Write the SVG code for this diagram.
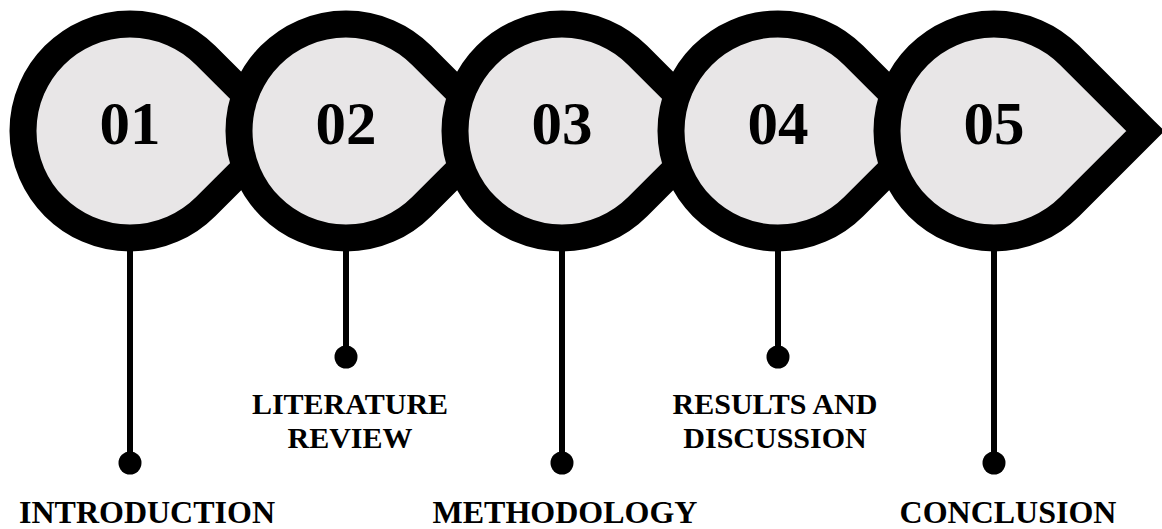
<svg xmlns="http://www.w3.org/2000/svg" width="1162" height="529" viewBox="0 0 1162 529">
  <defs>
    <path id="drop" d="M151.3,0 L75.66,-75.66 A107,107 0 1 0 75.66,75.66 Z"/>
  </defs>
  <style>
    .ring { fill: #e8e6e7; stroke: #000; stroke-width: 27; stroke-linejoin: miter; stroke-miterlimit: 4; }
    .num { font-family: "Liberation Serif", "Times New Roman", serif; font-weight: bold; font-size: 61px; fill: #000; text-anchor: middle; }
    .lbl { font-family: "Liberation Serif", "Times New Roman", serif; font-weight: bold; font-size: 32px; fill: #000; text-anchor: middle; }
    .lbl2 { font-family: "Liberation Serif", "Times New Roman", serif; font-weight: bold; font-size: 30px; fill: #000; text-anchor: middle; }
    .stem { stroke: #000; stroke-width: 6; fill: none; }
    .dot { fill: #000; }
  </style>
  <rect width="1162" height="529" fill="#fff"/>

  <g id="connectors">
    <line class="stem" x1="130" y1="240" x2="130" y2="463"/>
    <circle class="dot" cx="130" cy="463" r="11.5"/>
    <line class="stem" x1="346" y1="240" x2="346" y2="357"/>
    <circle class="dot" cx="346" cy="357" r="11.5"/>
    <line class="stem" x1="562" y1="240" x2="562" y2="463"/>
    <circle class="dot" cx="562" cy="463" r="11.5"/>
    <line class="stem" x1="778" y1="240" x2="778" y2="357"/>
    <circle class="dot" cx="778" cy="357" r="11.5"/>
    <line class="stem" x1="994" y1="240" x2="994" y2="463"/>
    <circle class="dot" cx="994" cy="463" r="11.5"/>
  </g>

  <g id="node1">
    <use href="#drop" class="ring" transform="translate(130,131)"/>
    <text class="num" x="130" y="144">01</text>
    <text class="lbl" x="147" y="523">INTRODUCTION</text>
  </g>
  <g id="node2">
    <use href="#drop" class="ring" transform="translate(346,131)"/>
    <text class="num" x="346" y="144">02</text>
    <text class="lbl2"><tspan x="350" y="414">LITERATURE</tspan><tspan x="350" y="448">REVIEW</tspan></text>
  </g>
  <g id="node3">
    <use href="#drop" class="ring" transform="translate(562,131)"/>
    <text class="num" x="562" y="144">03</text>
    <text class="lbl" x="565" y="523">METHODOLOGY</text>
  </g>
  <g id="node4">
    <use href="#drop" class="ring" transform="translate(778,131)"/>
    <text class="num" x="778" y="144">04</text>
    <text class="lbl2"><tspan x="775" y="414">RESULTS AND</tspan><tspan x="775" y="448">DISCUSSION</tspan></text>
  </g>
  <g id="node5">
    <use href="#drop" class="ring" transform="translate(994,131)"/>
    <text class="num" x="994" y="144">05</text>
    <text class="lbl" x="1008" y="523">CONCLUSION</text>
  </g>
</svg>
